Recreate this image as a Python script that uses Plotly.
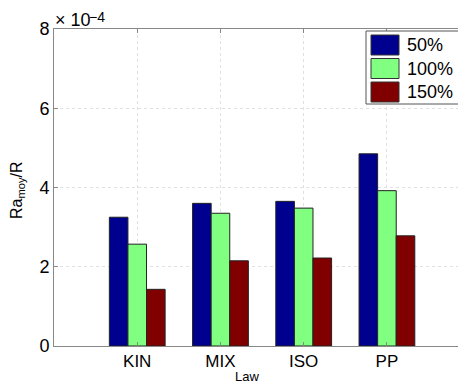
import plotly.graph_objects as go

# data (values in units of 1e-4)
laws = ["KIN", "MIX", "ISO", "PP"]
series_names = ["50%", "100%", "150%"]
v50 = [3.25, 3.60, 3.65, 4.85]
v100 = [2.57, 3.35, 3.48, 3.92]
v150 = [1.43, 2.15, 2.22, 2.78]
y_ticks = [0, 2, 4, 6, 8]

colors = ["#00008f", "#80ff80", "#800000"]
FONT = "Liberation Sans, Arial, Helvetica, sans-serif"

# the page body adds an 8px margin, so the figure is drawn 8px smaller
OFF = 8
W, H = 466 - OFF, 385 - OFF
L, T = 54 - OFF, 29 - OFF
R, B = 0, H - (346 - OFF)
PW, PH = W - L - R, H - T - B


def px(x):
    # x in screenshot pixels -> paper coordinate
    return (x - OFF - L) / PW


def py(y):
    return (H - B - (y - OFF)) / PH


fig = go.Figure()
for name, vals, c in zip(series_names, [v50, v100, v150], colors):
    fig.add_trace(go.Bar(
        x=laws, y=vals, name=name,
        marker=dict(color=c, line=dict(color="#222222", width=1)),
        showlegend=False,
    ))

# custom MATLAB-style legend
shapes = [dict(type="rect", xref="paper", yref="paper",
               x0=px(366), x1=px(472), y0=py(104), y1=py(31),
               line=dict(color="#555555", width=1), fillcolor="white")]
annotations = []
for i, (name, c) in enumerate(zip(series_names, colors)):
    yc = 45 + i * 23.5
    shapes.append(dict(type="rect", xref="paper", yref="paper",
                       x0=px(371), x1=px(399), y0=py(yc + 10), y1=py(yc - 10),
                       line=dict(color="#333333", width=1), fillcolor=c))
    annotations.append(dict(text=name, xref="paper", yref="paper",
                            x=px(405), y=py(yc), xanchor="left", yanchor="middle",
                            showarrow=False, font=dict(size=18, color="black")))

annotations += [
    dict(text="× 10", xref="paper", yref="paper",
         x=px(53), y=py(20), xanchor="left", yanchor="middle",
         showarrow=False, font=dict(size=18, color="black")),
    dict(text="−4", xref="paper", yref="paper",
         x=px(88), y=py(8), xanchor="left", yanchor="top",
         showarrow=False, font=dict(size=14, color="black"), borderpad=0),
    dict(text="Law", xref="paper", yref="paper",
         x=px(247), y=py(376), xanchor="center", yanchor="middle",
         showarrow=False, font=dict(size=13, color="black")),
    dict(text="Ra<sub>moy</sub>/R", xref="paper", yref="paper",
         x=px(18), y=py(190), xanchor="center", yanchor="middle", textangle=-90,
         showarrow=False, font=dict(size=16, color="black")),
]

fig.update_layout(
    width=W, height=H,
    margin=dict(l=L, r=R, t=T, b=B, pad=0),
    paper_bgcolor="white", plot_bgcolor="white",
    font=dict(family=FONT, color="black"),
    barmode="group", bargap=0.33, bargroupgap=0,
    shapes=shapes, annotations=annotations,
    xaxis=dict(
        type="category", range=[-1, 3.95],
        showline=True, linecolor="#888888", linewidth=1, mirror="ticks",
        ticks="inside", ticklen=4, tickcolor="#888888",
        showgrid=True, gridcolor="#e0e0e0", griddash="dot", gridwidth=1,
        tickfont=dict(size=17, color="black"),
    ),
    yaxis=dict(
        range=[0, 8], tickvals=y_ticks, ticktext=[str(t) for t in y_ticks],
        showline=True, linecolor="#888888", linewidth=1,
        ticks="inside", ticklen=4, tickcolor="#888888",
        showgrid=True, gridcolor="#e0e0e0", griddash="dot", gridwidth=1,
        zeroline=False,
        tickfont=dict(size=18, color="black"),
    ),
)

fig.write_html("out.html")
